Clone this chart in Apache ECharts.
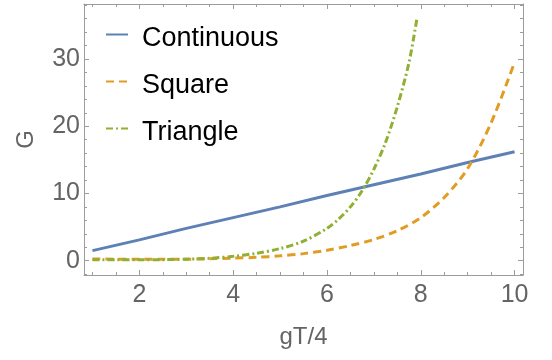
<!DOCTYPE html>
<html>
<head>
<meta charset="utf-8">
<script src="https://cdn.jsdelivr.net/npm/echarts@6/dist/echarts.min.js"></script>
<style>
html,body{margin:0;padding:0;background:#fff;}
#chart{width:552px;height:360px;}
</style>
</head>
<body>
<div id="chart"></div>
<script>
// ---- data ----
const seriesNames = ['Continuous', 'Square', 'Triangle'];

const continuousX = [1, 2, 3, 4, 5, 6, 7, 8, 9, 10];
const continuousY = [1.5, 3.1, 4.8, 6.4, 8.0, 9.7, 11.3, 12.9, 14.6, 16.2];

const squareX = [1, 1.5, 2, 2.5, 3, 3.5, 4, 4.5, 5, 5.5, 6, 6.5, 7, 7.5, 8, 8.5, 9, 9.5, 10];
const squareY = [0.25, 0.22, 0.2, 0.2, 0.22, 0.28, 0.38, 0.5, 0.72, 1.05, 1.55, 2.25, 3.15, 4.45, 6.4, 9.4, 13.7, 20.5, 29.5];

const triangleX = [1, 1.5, 2, 2.5, 3, 3.5, 4, 4.5, 5, 5.5, 6, 6.25, 6.5, 6.75, 7, 7.25, 7.5, 7.75, 7.92];
const triangleY = [0.15, 0.12, 0.12, 0.15, 0.22, 0.35, 0.65, 1.1, 1.8, 2.9, 4.8, 6.2, 8.0, 10.4, 13.6, 17.6, 22.9, 29.5, 36.1];

const xMajorTicks = [2, 4, 6, 8, 10];
const xMinorTicks = [1, 1.5, 2.5, 3, 3.5, 4.5, 5, 5.5, 6.5, 7, 7.5, 8.5, 9, 9.5];
const yMajorTicks = [0, 10, 20, 30];
const yMinorTicks = [-2, 2, 4, 6, 8, 12, 14, 16, 18, 22, 24, 26, 28, 32, 34, 36, 38];

const xName = 'gT/4';
const yName = 'G';

// ---- chart ----
const FONT = '"Liberation Sans", Arial, sans-serif';
const FRAME = '#9c9c9c';
const LABEL = '#646464';
const X_MIN = 0.82, X_MAX = 10.18;
const Y_MIN = -2.13, Y_MAX = 38.18;

function pairs(xs, ys) { return xs.map((x, i) => [x, ys[i]]); }

function xAxisDef(pos, ticks, len, withLabels, showLine) {
  return {
    type: 'value', position: pos, min: X_MIN, max: X_MAX,
    axisLine: { show: showLine, onZero: false, lineStyle: { color: FRAME, width: 1 } },
    axisTick: { show: true, inside: true, length: len, customValues: ticks, lineStyle: { color: FRAME, width: 1 } },
    axisLabel: withLabels ? { show: true, customValues: ticks, margin: 8, color: LABEL, fontSize: 25, fontFamily: FONT } : { show: false },
    splitLine: { show: false }
  };
}
function yAxisDef(pos, ticks, len, withLabels, showLine) {
  return {
    type: 'value', position: pos, min: Y_MIN, max: Y_MAX,
    axisLine: { show: showLine, onZero: false, lineStyle: { color: FRAME, width: 1 } },
    axisTick: { show: true, inside: true, length: len, customValues: ticks, lineStyle: { color: FRAME, width: 1 } },
    axisLabel: withLabels ? { show: true, customValues: ticks, margin: 4, color: LABEL, fontSize: 25, fontFamily: FONT } : { show: false },
    splitLine: { show: false }
  };
}

const xAxes = [
  Object.assign(xAxisDef('bottom', xMajorTicks, 5, true, true), {
    name: xName, nameLocation: 'middle', nameGap: 50,
    nameTextStyle: { color: LABEL, fontSize: 24, fontFamily: FONT }
  }),
  xAxisDef('bottom', xMinorTicks, 3, false, false),
  xAxisDef('top', xMajorTicks, 5, false, true),
  xAxisDef('top', xMinorTicks, 3, false, false)
];
const yAxes = [
  Object.assign(yAxisDef('left', yMajorTicks, 5, true, true), {
    name: yName, nameLocation: 'middle', nameGap: 46, nameRotate: 90,
    nameTextStyle: { color: LABEL, fontSize: 24, fontFamily: FONT }
  }),
  yAxisDef('left', yMinorTicks, 3, false, false),
  yAxisDef('right', yMajorTicks, 5, false, true),
  yAxisDef('right', yMinorTicks, 3, false, false)
];

const option = {
  animation: false,
  backgroundColor: '#ffffff',
  grid: { left: 84, right: 29, top: 4, bottom: 85, containLabel: false, outerBoundsMode: 'none' },
  xAxis: xAxes,
  yAxis: yAxes,
  legend: {
    orient: 'vertical', left: 105, top: 15.5, padding: 0,
    itemWidth: 22, itemHeight: 14, itemGap: 9,
    itemStyle: { opacity: 0, color: 'rgba(0,0,0,0)', borderWidth: 0 },
    formatter: '{t|{name}}',
    textStyle: {
      color: '#000', fontSize: 27, fontFamily: FONT, lineHeight: 30, padding: [8, 0, 0, 9],
      rich: { t: { color: '#000', fontSize: 27, fontFamily: FONT, lineHeight: 30 } }
    },
    data: seriesNames
  },
  series: [
    {
      name: seriesNames[0], type: 'line', xAxisIndex: 0, yAxisIndex: 0,
      data: pairs(continuousX, continuousY), symbol: 'none', smooth: false,
      lineStyle: { color: '#5E81B5', width: 3 }, itemStyle: { color: '#5E81B5' }
    },
    {
      name: seriesNames[1], type: 'line', xAxisIndex: 0, yAxisIndex: 0,
      data: pairs(squareX, squareY), symbol: 'none', smooth: 0.3,
      lineStyle: { color: '#E19C24', width: 3, type: [8, 5] }, itemStyle: { color: '#E19C24' }
    },
    {
      name: seriesNames[2], type: 'line', xAxisIndex: 0, yAxisIndex: 0,
      data: pairs(triangleX, triangleY), symbol: 'none', smooth: 0.3,
      lineStyle: { color: '#8FB032', width: 3, type: [7, 3, 2, 3] }, itemStyle: { color: '#8FB032' }
    }
  ]
};

const chart = echarts.init(document.getElementById('chart'), null, { renderer: 'canvas' });
chart.setOption(option);
</script>
</body>
</html>
